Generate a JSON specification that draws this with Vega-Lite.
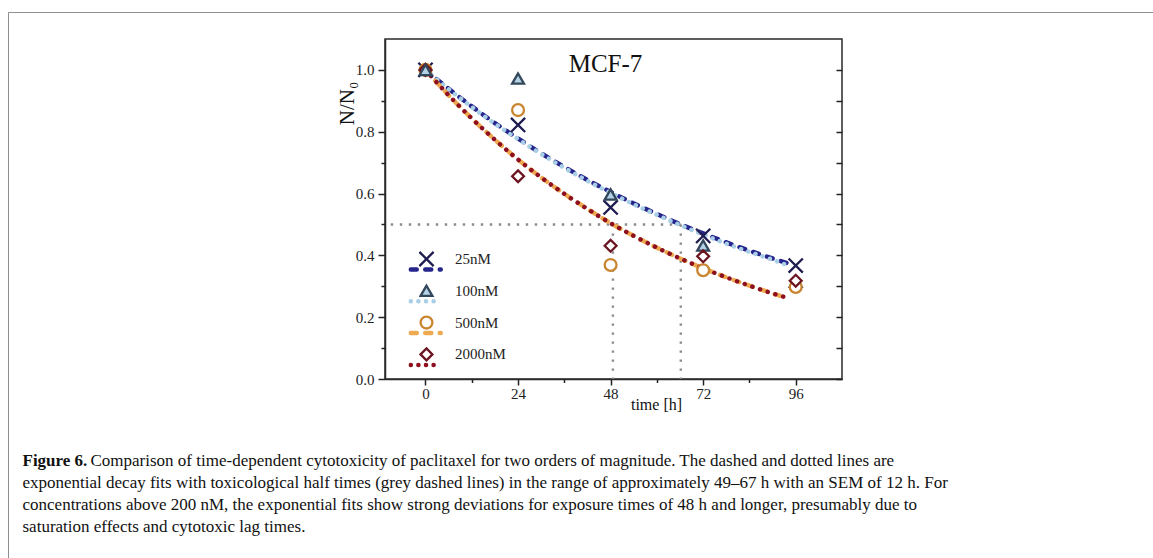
{
  "$schema": "https://vega.github.io/schema/vega-lite/v6.json",
  "width": 457,
  "height": 340,
  "autosize": "none",
  "padding": {"left": 385, "top": 39, "right": 311, "bottom": 179},
  "background": "white",
  "config": {"view": {"stroke": "#2a2a2a", "strokeWidth": 1.5}, "font": "Liberation Serif"},
  "datasets": {
    "halftime": [
      {"t": -9, "t2": 66.2, "v": 0.5, "v2": 0.5},
      {"t": 48.6, "t2": 48.6, "v": 0.5, "v2": 0.0},
      {"t": 66.2, "t2": 66.2, "v": 0.5, "v2": 0.0}
    ],
    "points": [
      {"conc": "25nM", "t": 0, "v": 1.0},
      {"conc": "25nM", "t": 24, "v": 0.822},
      {"conc": "25nM", "t": 48, "v": 0.555},
      {"conc": "25nM", "t": 72, "v": 0.463},
      {"conc": "25nM", "t": 96, "v": 0.367},
      {"conc": "100nM", "t": 24, "v": 0.972},
      {"conc": "100nM", "t": 48, "v": 0.597},
      {"conc": "100nM", "t": 72, "v": 0.432},
      {"conc": "100nM", "t": 96, "v": 0.315},
      {"conc": "500nM", "t": 0, "v": 1.0},
      {"conc": "500nM", "t": 24, "v": 0.87},
      {"conc": "500nM", "t": 48, "v": 0.369},
      {"conc": "500nM", "t": 72, "v": 0.352},
      {"conc": "500nM", "t": 96, "v": 0.298},
      {"conc": "2000nM", "t": 0, "v": 1.0},
      {"conc": "2000nM", "t": 24, "v": 0.656},
      {"conc": "2000nM", "t": 48, "v": 0.431},
      {"conc": "2000nM", "t": 72, "v": 0.397},
      {"conc": "2000nM", "t": 96, "v": 0.318},
      {"conc": "100nM", "t": 0, "v": 1.0}
    ],
    "fits": [
      {"curve": "25nM", "t": 0, "v": 1.0},
      {"curve": "25nM", "t": 6, "v": 0.939},
      {"curve": "25nM", "t": 12, "v": 0.882},
      {"curve": "25nM", "t": 18, "v": 0.828},
      {"curve": "25nM", "t": 24, "v": 0.778},
      {"curve": "25nM", "t": 30, "v": 0.730},
      {"curve": "25nM", "t": 36, "v": 0.686},
      {"curve": "25nM", "t": 42, "v": 0.644},
      {"curve": "25nM", "t": 48, "v": 0.605},
      {"curve": "25nM", "t": 54, "v": 0.568},
      {"curve": "25nM", "t": 60, "v": 0.534},
      {"curve": "25nM", "t": 66, "v": 0.501},
      {"curve": "25nM", "t": 72, "v": 0.471},
      {"curve": "25nM", "t": 78, "v": 0.442},
      {"curve": "25nM", "t": 84, "v": 0.415},
      {"curve": "25nM", "t": 90, "v": 0.390},
      {"curve": "25nM", "t": 94, "v": 0.374},
      {"curve": "100nM", "t": 0, "v": 1.0},
      {"curve": "100nM", "t": 6, "v": 0.938},
      {"curve": "100nM", "t": 12, "v": 0.880},
      {"curve": "100nM", "t": 18, "v": 0.826},
      {"curve": "100nM", "t": 24, "v": 0.776},
      {"curve": "100nM", "t": 30, "v": 0.728},
      {"curve": "100nM", "t": 36, "v": 0.683},
      {"curve": "100nM", "t": 42, "v": 0.641},
      {"curve": "100nM", "t": 48, "v": 0.602},
      {"curve": "100nM", "t": 54, "v": 0.565},
      {"curve": "100nM", "t": 60, "v": 0.531},
      {"curve": "100nM", "t": 66, "v": 0.498},
      {"curve": "100nM", "t": 72, "v": 0.467},
      {"curve": "100nM", "t": 78, "v": 0.438},
      {"curve": "100nM", "t": 84, "v": 0.411},
      {"curve": "100nM", "t": 90, "v": 0.386},
      {"curve": "100nM", "t": 93, "v": 0.372},
      {"curve": "500nM", "t": 0, "v": 1.0},
      {"curve": "500nM", "t": 6, "v": 0.918},
      {"curve": "500nM", "t": 12, "v": 0.843},
      {"curve": "500nM", "t": 18, "v": 0.774},
      {"curve": "500nM", "t": 24, "v": 0.710},
      {"curve": "500nM", "t": 30, "v": 0.652},
      {"curve": "500nM", "t": 36, "v": 0.599},
      {"curve": "500nM", "t": 42, "v": 0.550},
      {"curve": "500nM", "t": 48, "v": 0.504},
      {"curve": "500nM", "t": 54, "v": 0.463},
      {"curve": "500nM", "t": 60, "v": 0.425},
      {"curve": "500nM", "t": 66, "v": 0.390},
      {"curve": "500nM", "t": 72, "v": 0.358},
      {"curve": "500nM", "t": 78, "v": 0.329},
      {"curve": "500nM", "t": 84, "v": 0.302},
      {"curve": "500nM", "t": 90, "v": 0.277},
      {"curve": "500nM", "t": 94, "v": 0.262},
      {"curve": "2000nM", "t": 0, "v": 1.0},
      {"curve": "2000nM", "t": 6, "v": 0.918},
      {"curve": "2000nM", "t": 12, "v": 0.843},
      {"curve": "2000nM", "t": 18, "v": 0.774},
      {"curve": "2000nM", "t": 24, "v": 0.710},
      {"curve": "2000nM", "t": 30, "v": 0.652},
      {"curve": "2000nM", "t": 36, "v": 0.599},
      {"curve": "2000nM", "t": 42, "v": 0.550},
      {"curve": "2000nM", "t": 48, "v": 0.504},
      {"curve": "2000nM", "t": 54, "v": 0.463},
      {"curve": "2000nM", "t": 60, "v": 0.425},
      {"curve": "2000nM", "t": 66, "v": 0.390},
      {"curve": "2000nM", "t": 72, "v": 0.358},
      {"curve": "2000nM", "t": 78, "v": 0.329},
      {"curve": "2000nM", "t": 84, "v": 0.302},
      {"curve": "2000nM", "t": 90, "v": 0.277},
      {"curve": "2000nM", "t": 94, "v": 0.262}
    ]
  },
  "resolve": {"axis": {"x": "independent", "y": "independent"}},
  "layer": [
    {
      "data": {"name": "halftime"},
      "mark": {"type": "rule", "color": "#8a8a8a", "strokeWidth": 2.4, "strokeDash": [2.4, 6.6]},
      "encoding": {
        "x": {
          "field": "t", "type": "quantitative",
          "scale": {"domain": [-10.5, 108], "nice": false, "zero": false},
          "axis": {
            "orient": "bottom", "values": [0, 24, 48, 72, 96], "tickSize": 6, "tickWidth": 1.5, "tickColor": "#222222",
            "domain": true, "domainColor": "#2a2a2a", "domainWidth": 1.5, "grid": false,
            "labelFont": "Liberation Serif", "labelFontSize": 15, "labelColor": "#222222", "labelPadding": 1, "labelFlush": false,
            "title": "time [h]", "titleFont": "Liberation Serif", "titleFontSize": 16, "titleFontWeight": "normal", "titleColor": "#111111",
            "titleX": 271, "titleY": 25, "titleBaseline": "middle", "titleAlign": "center"
          }
        },
        "x2": {"field": "t2"},
        "y": {
          "field": "v", "type": "quantitative",
          "scale": {"domain": [0, 1.1], "nice": false, "zero": false},
          "axis": {
            "orient": "left", "values": [0, 0.2, 0.4, 0.6, 0.8, 1.0], "format": ".1f", "tickSize": 7, "tickWidth": 1.5, "tickColor": "#222222",
            "domain": true, "domainColor": "#2a2a2a", "domainWidth": 1.5, "grid": false,
            "labelFont": "Liberation Serif", "labelFontSize": 15, "labelColor": "#222222", "labelPadding": 4, "labelFlush": false,
            "title": "N/N₀", "titleFont": "Liberation Serif", "titleFontSize": 21, "titleFontWeight": "normal", "titleColor": "#111111",
            "titleX": -38, "titleY": 64, "titleAngle": -90, "titleAlign": "center", "titleBaseline": "middle"
          }
        },
        "y2": {"field": "v2"}
      }
    },
    {
      "data": {"name": "fits"},
      "mark": {"type": "line", "strokeWidth": 4.5, "strokeCap": "round", "interpolate": "monotone"},
      "encoding": {
        "x": {"field": "t", "type": "quantitative", "scale": {"domain": [-10.5, 108], "nice": false, "zero": false}, "axis": null},
        "y": {"field": "v", "type": "quantitative", "scale": {"domain": [0, 1.1], "nice": false, "zero": false}, "axis": null},
        "color": {
          "field": "curve", "type": "nominal", "sort": ["25nM", "100nM", "500nM", "2000nM"],
          "scale": {"range": ["#25258c", "#a9cfe7", "#eeaa50", "#8e0f1f"]},
          "legend": {
            "orient": "none", "legendX": 23.25, "legendY": 222.5, "title": null, "padding": 0,
            "symbolType": "stroke", "symbolSize": 900, "symbolStrokeWidth": 4.5, "clipHeight": 16, "rowPadding": 15.8,
            "labelExpr": "''", "labelOffset": 0,
            "encode": {"symbols": {"update": {
              "strokeCap": {"value": "round"},
              "strokeDash": {"signal": "datum.value === '100nM' || datum.value === '2000nM' ? [0.1, 7.5] : [6, 8.5]"}
            }}}
          }
        },
        "strokeDash": {
          "field": "curve", "type": "nominal", "sort": ["25nM", "100nM", "500nM", "2000nM"],
          "scale": {"range": [[6, 8.5], [0.1, 7.5], [6, 8.5], [0.1, 8]]},
          "legend": null
        }
      }
    },
    {
      "data": {"name": "points"},
      "mark": {"type": "point", "filled": true, "opacity": 1, "size": 140, "strokeWidth": 2.3},
      "encoding": {
        "x": {"field": "t", "type": "quantitative", "scale": {"domain": [-10.5, 108], "nice": false, "zero": false}, "axis": null},
        "y": {"field": "v", "type": "quantitative", "scale": {"domain": [0, 1.1], "nice": false, "zero": false}, "axis": null},
        "shape": {
          "field": "conc", "type": "nominal",
          "scale": {"domain": ["25nM", "100nM", "500nM", "2000nM"], "range": ["M-1.2,-1.2L1.2,1.2M-1.2,1.2L1.2,-1.2", "triangle-up", "circle", "diamond"]},
          "legend": {
            "orient": "none", "legendX": 34, "legendY": 212, "title": null, "padding": 0,
            "symbolSize": 140, "symbolStrokeWidth": 2.3, "clipHeight": 16, "rowPadding": 15.8, "labelOffset": 21,
            "labelFont": "Liberation Serif", "labelFontSize": 15, "labelColor": "#222222"
          }
        },
        "fill": {
          "field": "conc", "type": "nominal",
          "scale": {"domain": ["25nM", "100nM", "500nM", "2000nM"], "range": ["#1e1c50", "#b4d2e6", "#ffffff", "#ffffff"]},
          "legend": {
            "orient": "none", "legendX": 34, "legendY": 212, "title": null, "padding": 0,
            "symbolSize": 140, "symbolStrokeWidth": 2.3, "clipHeight": 16, "rowPadding": 15.8, "labelOffset": 21,
            "labelFont": "Liberation Serif", "labelFontSize": 15, "labelColor": "#222222"
          }
        },
        "stroke": {
          "field": "conc", "type": "nominal",
          "scale": {"domain": ["25nM", "100nM", "500nM", "2000nM"], "range": ["#1e1c50", "#33475b", "#c9852f", "#6b1521"]},
          "legend": {
            "orient": "none", "legendX": 34, "legendY": 212, "title": null, "padding": 0,
            "symbolSize": 140, "symbolStrokeWidth": 2.3, "clipHeight": 16, "rowPadding": 15.8, "labelOffset": 21,
            "labelFont": "Liberation Serif", "labelFontSize": 15, "labelColor": "#222222"
          }
        }
      }
    },
    {
      "data": {"name": "points"},
      "mark": {"type": "point", "opacity": 0},
      "encoding": {
        "x": {
          "field": "t", "type": "quantitative", "scale": {"domain": [-10.5, 108], "nice": false, "zero": false},
          "axis": {
            "orient": "bottom", "values": [12, 36, 60, 84], "tickSize": 3.5, "tickWidth": 1.5, "tickColor": "#222222", "labels": false, "domain": false, "grid": false,
            "title": [
              "\u200b\u00a0\u00a0\u00a0\u00a0\u00a0\u00a0\u00a0\u00a0\u00a0\u00a0\u00a0\u00a0\u00a0\u00a0\u00a0\u00a0Comparison of time-dependent cytotoxicity of paclitaxel for two orders of magnitude. The dashed and dotted lines are",
              "exponential decay fits with toxicological half times (grey dashed lines) in the range of approximately 49–67 h with an SEM of 12 h. For",
              "concentrations above 200 nM, the exponential fits show strong deviations for exposure times of 48 h and longer, presumably due to",
              "saturation effects and cytotoxic lag times."
            ],
            "titleFont": "Liberation Serif", "titleFontSize": 17, "titleFontWeight": "normal", "titleColor": "#111111", "titleLineHeight": 22,
            "titleX": -363, "titleY": 73.5, "titleAlign": "left", "titleBaseline": "top", "titleAngle": 0
          }
        },
        "y": {
          "field": "v", "type": "quantitative", "scale": {"domain": [0, 1.1], "nice": false, "zero": false},
          "axis": {"orient": "left", "values": [0.1, 0.3, 0.5, 0.7, 0.9], "tickSize": 4, "tickWidth": 1.5, "tickColor": "#222222", "labels": false, "domain": false, "grid": false, "title": null}
        },
        "size": {
          "field": "conc", "type": "ordinal",
          "legend": {
            "orient": "none", "legendX": -377, "legendY": -27, "title": null, "padding": 700,
            "strokeColor": "#8f8f8f", "symbolOpacity": 0, "labelExpr": "''", "labelOffset": 0,
            "encode": {"legend": {"update": {"strokeWidth": {"value": 2}}}}
          }
        }
      }
    },
    {
      "data": {"name": "points"},
      "mark": {"type": "point", "opacity": 0},
      "encoding": {
        "x": {
          "field": "t", "type": "quantitative", "scale": {"domain": [-10.5, 108], "nice": false, "zero": false},
          "axis": {
            "orient": "top", "ticks": false, "labels": false, "domain": false, "grid": false,
            "title": "MCF-7", "titleFont": "Liberation Serif", "titleFontSize": 25, "titleFontWeight": "normal", "titleColor": "#111111",
            "titleX": 220, "titleY": 24, "titleBaseline": "middle", "titleAlign": "center", "titleAngle": 0
          }
        },
        "y": {
          "field": "v", "type": "quantitative", "scale": {"domain": [0, 1.1], "nice": false, "zero": false},
          "axis": {
            "orient": "right", "values": [0, 0.1, 0.2, 0.3, 0.4, 0.5, 0.6, 0.7, 0.8, 0.9, 1.0], "tickSize": -6, "tickWidth": 1.5, "tickColor": "#222222", "labels": false, "domain": false, "grid": false,
            "title": "Figure 6.", "titleFont": "Liberation Serif", "titleFontSize": 17, "titleFontWeight": "bold", "titleColor": "#111111",
            "titleX": -820, "titleY": 413.5, "titleAlign": "left", "titleBaseline": "top", "titleAngle": 0
          }
        }
      }
    }
  ]
}
